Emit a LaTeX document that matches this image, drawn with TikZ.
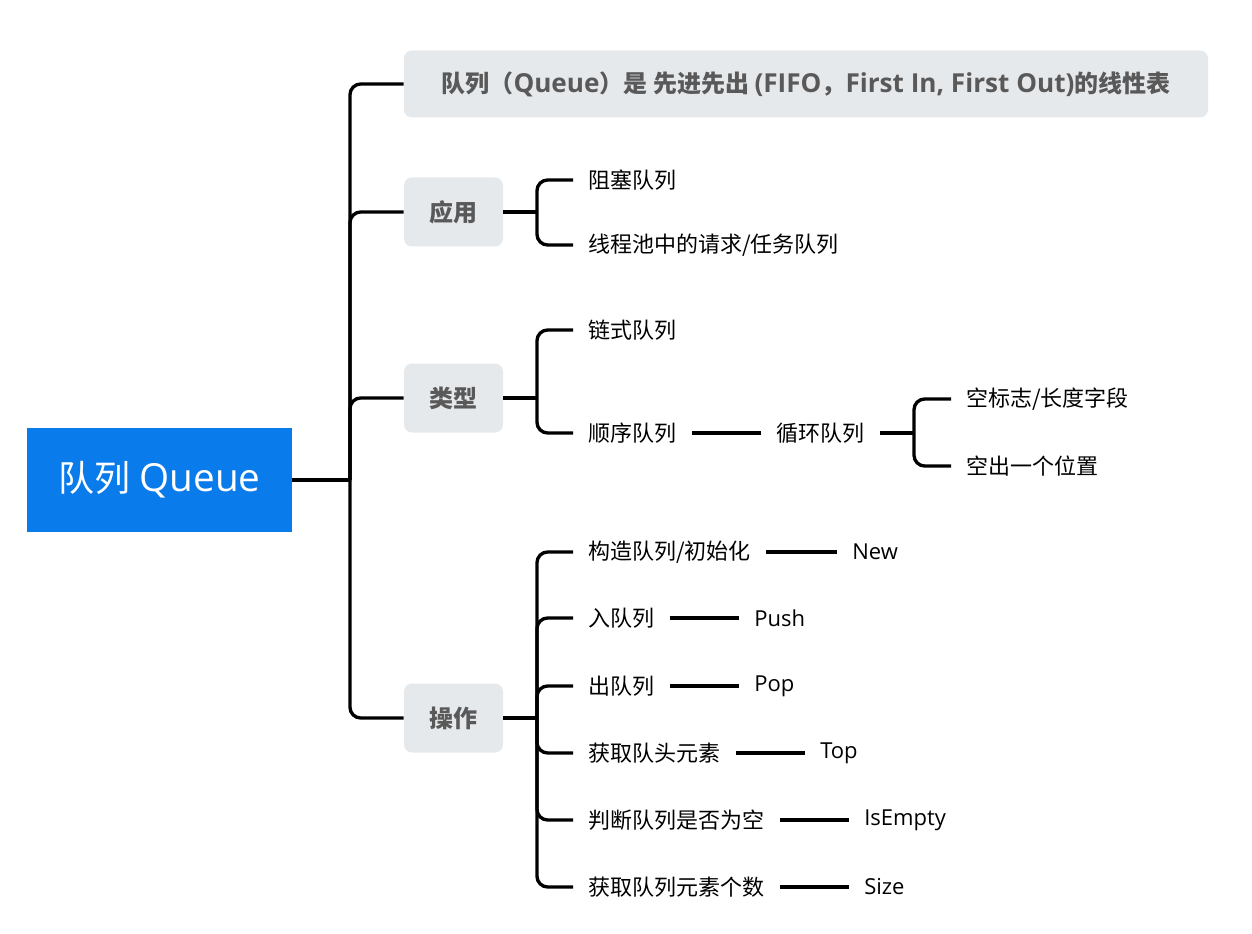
\documentclass[tikz,border=0pt]{standalone}
\usepackage{fontspec}
\setmainfont{Open Sans}
\newfontfamily\cjk{Noto Sans CJK SC}
\definecolor{rootblue}{HTML}{0A7BEA}
\definecolor{boxgray}{HTML}{E6E9EC}
\definecolor{boxtext}{HTML}{595959}
\newcommand\lat[1]{{\fontsize{19.6pt}{22pt}\selectfont #1}}
\begin{document}
\begin{tikzpicture}[x=0.75pt,y=-0.75pt,
  conn/.style={line width=2.5pt,black},
  rc/.style={conn,rounded corners=8pt},
  rootbox/.style={fill=rootblue,text=white,minimum width=198.75pt,minimum height=78pt,inner sep=0pt,font=\fontsize{27pt}{32pt}\selectfont},
  topic/.style={fill=boxgray,rounded corners=6pt,text=boxtext,minimum width=74.25pt,minimum height=51.75pt,inner sep=0pt,font=\fontsize{18pt}{22pt}\selectfont\bfseries},
  leaf/.style={anchor=west,inner xsep=11.25pt,inner ysep=2pt,font=\fontsize{16.5pt}{20pt}\selectfont,text=black},
]
\useasboundingbox (0,0) rectangle (1252,934);

% root
\node[rootbox] (root) at (159.5,480) {{\cjk 队列} {\fontsize{29pt}{32pt}\selectfont Queue}};

% level 1
\node[topic,minimum width=603pt,minimum height=50.25pt] (def) at (806,84)
  {{\cjk 队列（}\lat{Queue}{\cjk ）是 先进先出 }\lat{(FIFO}{\cjk ，}\lat{First In, First Out)}{\cjk 的线性表}};
\node[topic] (app) at (453.5,212) {\cjk 应用};
\node[topic] (typ) at (453.5,398) {\cjk 类型};
\node[topic] (op) at (453.5,718) {\cjk 操作};

\coordinate (trunk) at (350,480);
\draw[conn] (root.east) -- (trunk);
\draw[rc] (trunk) |- (def.west);
\draw[rc] (trunk) |- (app.west);
\draw[rc] (trunk) |- (typ.west);
\draw[rc] (trunk) |- (op.west);

% 应用
\node[leaf] (a1) at (573,180) {\cjk 阻塞队列};
\node[leaf] (a2) at (573,245) {\cjk 线程池中的请求/任务队列};
\coordinate (appj) at (537,212);
\draw[conn] (app.east) -- (appj);
\draw[rc] (appj) |- (a1.west);
\draw[rc] (appj) |- (a2.west);

% 类型
\node[leaf] (t1) at (573,330) {\cjk 链式队列};
\node[leaf] (t2) at (573,433) {\cjk 顺序队列};
\coordinate (typj) at (537,398);
\draw[conn] (typ.east) -- (typj);
\draw[rc] (typj) |- (t1.west);
\draw[rc] (typj) |- (t2.west);

\node[leaf] (t3) at (761,433) {\cjk 循环队列};
\draw[conn] (t2.east) -- (t3.west);
\node[leaf] (t4) at (951,399) {\cjk 空标志/长度字段};
\node[leaf] (t5) at (951,466) {\cjk 空出一个位置};
\coordinate (cyc) at (914,433);
\draw[conn] (t3.east) -- (cyc);
\draw[rc] (cyc) |- (t4.west);
\draw[rc] (cyc) |- (t5.west);

% 操作
\coordinate (opj) at (537,718);
\draw[conn] (op.east) -- (opj);
\node[leaf] (o1) at (573,552) {\cjk 构造队列/初始化};
\node[leaf] (o2) at (573,618) {\cjk 入队列};
\node[leaf] (o3) at (573,686) {\cjk 出队列};
\node[leaf] (o4) at (573,753) {\cjk 获取队头元素};
\node[leaf] (o5) at (573,820) {\cjk 判断队列是否为空};
\node[leaf] (o6) at (573,887) {\cjk 获取队列元素个数};
\foreach \n in {o1,o2,o3,o4,o5,o6} \draw[rc] (opj) |- (\n.west);

\node[leaf] (v1) at (837,552) {New};
\node[leaf] (v2) at (739,618) {Push};
\node[leaf] (v3) at (739,686) {Pop};
\node[leaf] (v4) at (805,753) {Top};
\node[leaf] (v5) at (849,820) {IsEmpty};
\node[leaf] (v6) at (849,887) {Size};
\foreach \a/\b in {o1/v1,o2/v2,o3/v3,o4/v4,o5/v5,o6/v6} \draw[conn] (\a.east) -- (\b.west);
\end{tikzpicture}
\end{document}
